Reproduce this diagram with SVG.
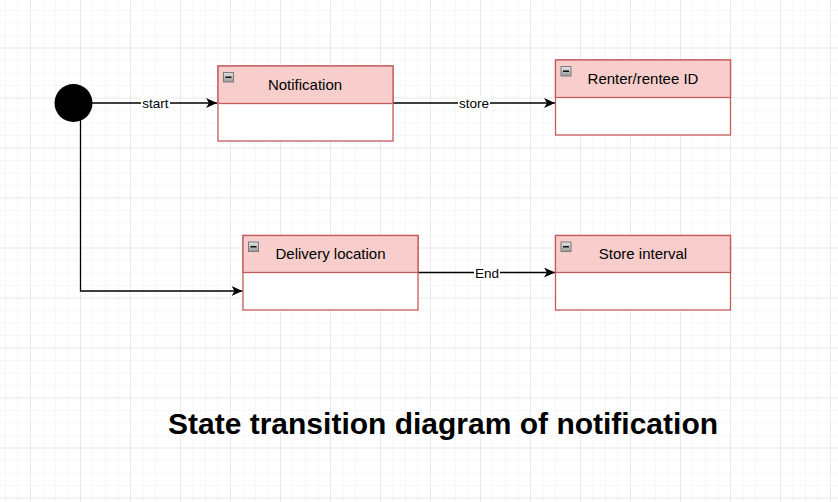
<svg xmlns="http://www.w3.org/2000/svg" width="838" height="502" viewBox="0 0 838 502">
<defs>
<pattern id="minor" patternUnits="userSpaceOnUse" x="5" y="10" width="12.5" height="12.5">
<path d="M0 0H12.5M0 0V12.5" fill="none" stroke="#efefef" stroke-width="1"/>
</pattern>
<pattern id="major" patternUnits="userSpaceOnUse" x="30" y="47.5" width="50" height="50">
<path d="M0 0H50M0 0V50" fill="none" stroke="#dcdcdc" stroke-width="1"/>
</pattern>
<linearGradient id="ig" x1="0" y1="0" x2="0" y2="1">
<stop offset="0" stop-color="#e4e4e4"/>
<stop offset="1" stop-color="#9a9a9a"/>
</linearGradient>
<marker id="arr" markerWidth="12" markerHeight="10" refX="11" refY="5" orient="auto" markerUnits="userSpaceOnUse">
<path d="M0 0L11 5L0 10L3 5Z" fill="#000"/>
</marker>
<symbol id="icon" overflow="visible">
<rect x="0.5" y="0.5" width="10" height="9.5" fill="url(#ig)" stroke="#7a7a7a" stroke-width="1"/>
<rect x="2.5" y="4.5" width="6" height="1.5" fill="#111"/>
</symbol>
</defs>
<style>
.box{fill:#fff;stroke:#c55a5a;stroke-width:1.3}
.hdr{fill:#f8cecc;stroke:#c55a5a;stroke-width:1.3}
.nt{font-family:"Liberation Sans",Arial,sans-serif;font-size:15px;fill:#000;text-anchor:middle}
.el{font-family:"Liberation Sans",Arial,sans-serif;font-size:13.5px;fill:#000;text-anchor:middle}
.edge{fill:none;stroke:#000;stroke-width:1.3}
.lbg{fill:#fff}
</style>
<rect width="838" height="502" fill="#fff"/>
<rect width="838" height="502" fill="url(#minor)"/>
<rect width="838" height="502" fill="url(#major)"/>

<g id="connectors">
<path class="edge" d="M92 103H217" marker-end="url(#arr)"/>
<rect class="lbg" x="141" y="95" width="29" height="16"/>
<text class="el" x="155.5" y="108">start</text>
<path class="edge" d="M393 103H555" marker-end="url(#arr)"/>
<rect class="lbg" x="458" y="95" width="32" height="16"/>
<text class="el" x="474" y="108">store</text>
<path class="edge" d="M80.5 120V291H242.5" marker-end="url(#arr)"/>
<path class="edge" d="M418 272.5H555" marker-end="url(#arr)"/>
<rect class="lbg" x="474" y="264" width="26" height="16"/>
<text class="el" x="487" y="277.5">End</text>
</g>

<g id="start">
<circle cx="73.5" cy="103" r="19" fill="#000"/>
</g>

<g id="notification">
<rect class="box" x="218" y="66" width="175" height="75"/>
<rect class="hdr" x="218" y="66" width="175" height="37.5"/>
<use href="#icon" x="223" y="72"/>
<text class="nt" x="305" y="89.5">Notification</text>
</g>

<g id="renter">
<rect class="box" x="555.5" y="60" width="175" height="75"/>
<rect class="hdr" x="555.5" y="60" width="175" height="37.5"/>
<use href="#icon" x="560.5" y="66"/>
<text class="nt" x="643" y="83.5">Renter/rentee ID</text>
</g>

<g id="delivery">
<rect class="box" x="243" y="235.5" width="175" height="74.5"/>
<rect class="hdr" x="243" y="235.5" width="175" height="37"/>
<use href="#icon" x="248" y="241.5"/>
<text class="nt" x="330.5" y="259">Delivery location</text>
</g>

<g id="storeinterval">
<rect class="box" x="555.5" y="235.5" width="175" height="74.5"/>
<rect class="hdr" x="555.5" y="235.5" width="175" height="37"/>
<use href="#icon" x="560.5" y="241.5"/>
<text class="nt" x="643" y="259">Store interval</text>
</g>

<g id="title">
<text x="168" y="433.5" font-family="'Liberation Sans',Arial,sans-serif" font-weight="bold" font-size="30px" fill="#000">State transition diagram of notification</text>
</g>
</svg>
